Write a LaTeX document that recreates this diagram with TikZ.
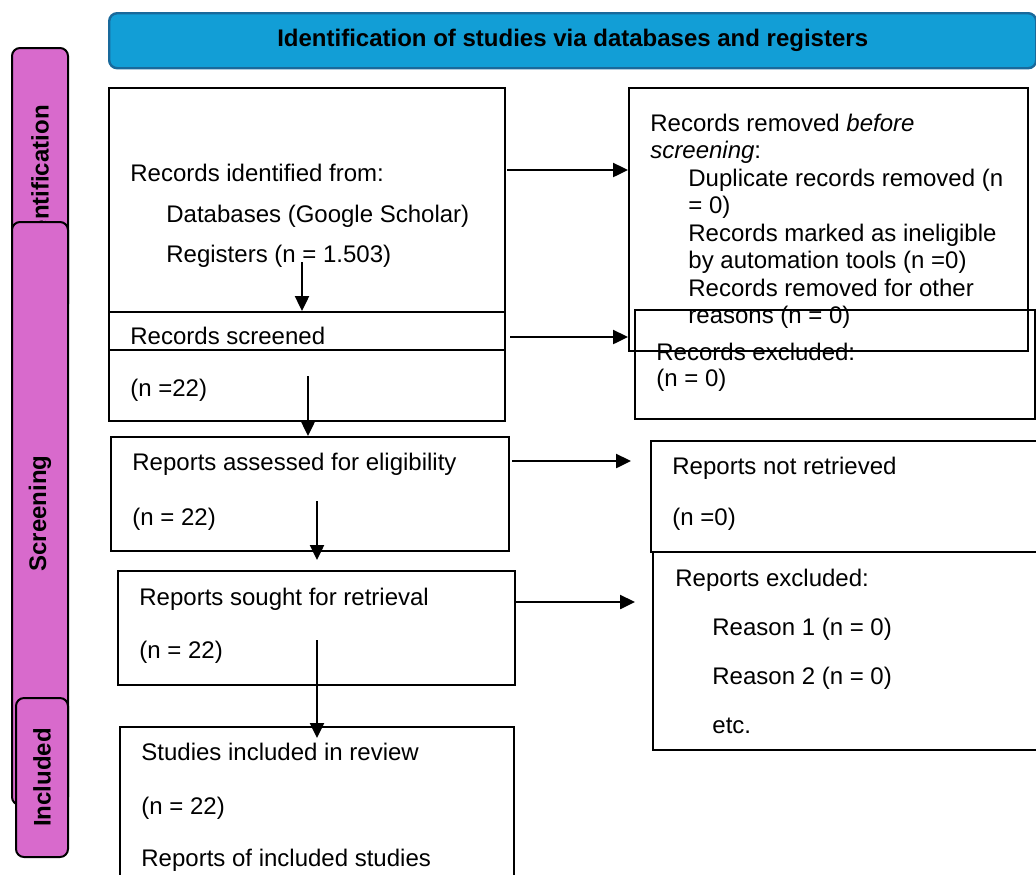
\documentclass[tikz,border=0pt]{standalone}
\usepackage{fontspec}
\setmainfont{Liberation Sans}
\usetikzlibrary{arrows.meta}
\definecolor{headblue}{RGB}{18,158,214}
\definecolor{headedge}{RGB}{25,105,155}
\definecolor{phasepink}{RGB}{216,106,204}
\begin{document}
\fontsize{12}{14.4}\selectfont
\begin{tikzpicture}[x=0.5pt,y=-0.5pt,
  box/.style={draw,line width=1.2pt,anchor=north west,inner sep=0pt},
  phase/.style={draw,line width=1pt,fill=phasepink,rounded corners=4pt,rotate=90,font=\bfseries,inner sep=0pt},
  txt/.style={anchor=base west,inner sep=0pt},
  arr/.style={-{Triangle[length=7.5pt,width=7pt]},line width=1.2pt}]
\clip (0,0) rectangle (1036,874);
% header
\node[box,fill=headblue,draw=headedge,rounded corners=4pt,minimum width=463.5pt,minimum height=27.5pt,font=\bfseries] (head) at (108,12) {Identification of studies via databases and registers};
% phase bars
\node[phase,minimum width=132pt,minimum height=28pt] (idbar) at (40,180) {Identification};
\node[phase,minimum width=291.5pt,minimum height=28pt] (scrbar) at (40,513.5) {Screening};
\node[phase,minimum width=79.5pt,minimum height=26pt] (incbar) at (42,777.5) {Included};
% boxes
\node[box,minimum width=198pt,minimum height=166.5pt] (idf) at (108,87) {};
\node[box,minimum width=198pt,minimum height=19pt] (scr) at (108,311) {};
\node[box,minimum width=199.5pt,minimum height=131.5pt] (rem) at (628,87) {};
\node[box,minimum width=200pt,minimum height=54.5pt] (excl) at (634,309) {};
\node[box,minimum width=199pt,minimum height=57pt] (elig) at (110,436) {};
\node[box,minimum width=200pt,minimum height=55.5pt] (notr) at (650,440) {};
\node[box,minimum width=200pt,minimum height=99pt] (rexc) at (652,551) {};
\node[box,minimum width=198.5pt,minimum height=57pt] (sought) at (117,570) {};
\node[box,minimum width=197pt,minimum height=80pt] (incl) at (119,726) {};
% texts
\node[txt] (idfa) at (130,181) {Records identified from:};
\node[txt] (idfb) at (166,222) {Databases (Google Scholar)};
\node[txt] (idfc) at (166,262) {Registers (n = 1.503)};
\node[txt] (scra) at (130,344) {Records screened};
\node[txt] (scrb) at (130,396) {(n =22)};
\node[txt] (rema) at (650,131) {Records removed \textit{before}};
\node[txt] (remb) at (650,158.5) {\textit{screening}:};
\node[txt] (remc) at (688,186) {Duplicate records removed (n};
\node[txt] (remd) at (688,213.5) {= 0)};
\node[txt] (reme) at (688,241) {Records marked as ineligible};
\node[txt] (remf) at (688,268.5) {by automation tools (n =0)};
\node[txt] (remg) at (688,296) {Records removed for other};
\node[txt] (remh) at (688,323.5) {reasons (n = 0)};
\node[txt] (excla) at (656,360) {Records excluded:};
\node[txt] (exclb) at (656,386) {(n = 0)};
\node[txt] (eliga) at (132,470) {Reports assessed for eligibility};
\node[txt] (eligb) at (132,525) {(n = 22)};
\node[txt] (notra) at (672,474) {Reports not retrieved};
\node[txt] (notrb) at (672,525) {(n =0)};
\node[txt] (soughta) at (139,605) {Reports sought for retrieval};
\node[txt] (soughtb) at (139,658) {(n = 22)};
\node[txt] (rexca) at (675,586) {Reports excluded:};
\node[txt] (rexcb) at (712,635) {Reason 1 (n = 0)};
\node[txt] (rexcc) at (712,684) {Reason 2 (n = 0)};
\node[txt] (rexcd) at (712,733) {etc.};
\node[txt] (incla) at (141,760) {Studies included in review};
\node[txt] (inclb) at (141,814) {(n = 22)};
\node[txt] (inclc) at (141,866) {Reports of included studies};
% arrows
\coordinate (s1) at (507,170);
\draw[arr] (s1) -- (s1 -| rem.west);
\coordinate (s2) at (302,262);
\draw[arr] (s2) -- (s2 |- scr.north);
\coordinate (s3) at (510,337);
\draw[arr] (s3) -- (s3 -| rem.west);
\coordinate (s4) at (308,376);
\draw[arr] (s4) -- (s4 |- elig.north);
\coordinate (s5) at (512,461);
\coordinate (e5) at (631,461);
\draw[arr] (s5) -- (e5);
\coordinate (s6) at (317,501);
\coordinate (e6) at (317,560);
\draw[arr] (s6) -- (e6);
\coordinate (s7) at (516,602);
\coordinate (e7) at (635,602);
\draw[arr] (s7) -- (e7);
\coordinate (s8) at (317,640);
\coordinate (e8) at (317,738);
\draw[arr] (s8) -- (e8);
\end{tikzpicture}
\end{document}
